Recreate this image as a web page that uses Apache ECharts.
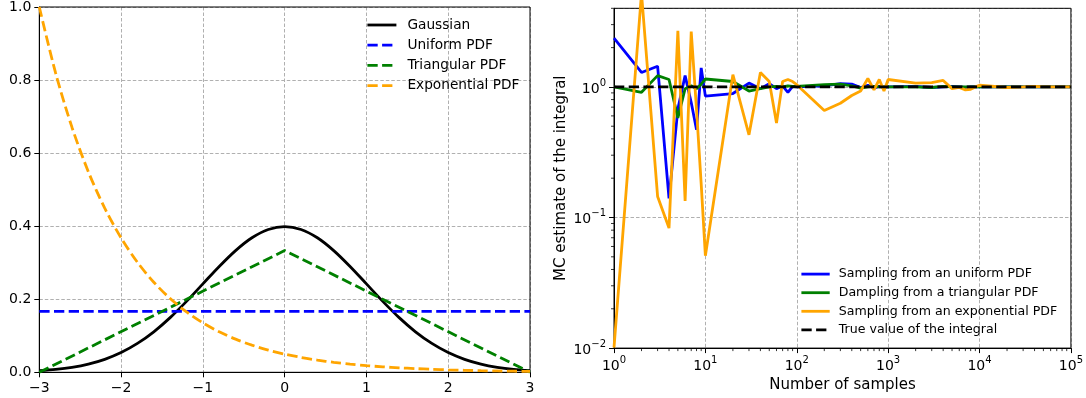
<!DOCTYPE html>
<html><head><meta charset="utf-8">
<script src="https://cdn.jsdelivr.net/npm/echarts@6/dist/echarts.min.js"></script>
<style>html,body{margin:0;padding:0;background:#fff}#c{width:1086px;height:398px}</style>
</head><body><div id="c"></div>
<script>
// ---------- Left panel data ----------
const pdfX = [-3.0,-2.8,-2.6,-2.4,-2.2,-2.0,-1.8,-1.6,-1.4,-1.2,-1.0,-0.8,-0.6,-0.4,-0.2,0.0,
              0.2,0.4,0.6,0.8,1.0,1.2,1.4,1.6,1.8,2.0,2.2,2.4,2.6,2.8,3.0];
const gaussian = [0.0044,0.0079,0.0136,0.0224,0.0355,0.0540,0.0790,0.1109,0.1497,0.1942,0.2420,0.2897,0.3332,0.3683,0.3910,0.3989,
                  0.3910,0.3683,0.3332,0.2897,0.2420,0.1942,0.1497,0.1109,0.0790,0.0540,0.0355,0.0224,0.0136,0.0079,0.0044];
const exponentialPdf = [1.0,0.8187,0.6703,0.5488,0.4493,0.3679,0.3012,0.2466,0.2019,0.1653,0.1353,0.1108,0.0907,0.0743,0.0608,0.0498,
                        0.0408,0.0334,0.0273,0.0224,0.0183,0.0150,0.0123,0.0101,0.0082,0.0067,0.0055,0.0045,0.0037,0.0030,0.0025];
const uniformX = [-3, 3];
const uniformPdf = [0.1667, 0.1667];
const triangularX = [-3, 0, 3];
const triangularPdf = [0, 0.3333, 0];

// ---------- Right panel data ----------
const nSamples = [1,2,3,4,5,6,7,8,9,10,
                  20,30,40,50,60,70,80,90,100,
                  200,300,400,500,600,700,800,900,1000,
                  2000,3000,4000,5000,6000,7000,8000,9000,10000,
                  20000,30000,40000,50000,60000,70000,80000,90000,100000];
const mcUniform = [2.36,1.29,1.44,0.14,0.68,1.22,0.76,0.47,1.40,0.85,
                   0.89,1.07,0.97,1.06,0.97,1.02,0.91,1.01,1.00,
                   1.02,1.06,1.05,0.99,1.03,0.98,1.01,0.99,1.00,
                   1.01,0.99,1.00,1.01,1.00,0.99,1.00,1.00,1.00,
                   1.00,1.00,1.00,1.00,1.00,1.00,1.00,1.00,1.00];
const mcTriangular = [1.00,0.91,1.22,1.14,0.58,0.97,1.02,0.97,1.05,1.15,
                      1.10,0.93,0.97,1.00,1.01,1.00,1.02,1.01,1.01,
                      1.04,1.05,1.02,0.98,1.00,1.01,1.00,1.00,1.00,
                      1.00,0.99,1.01,1.00,1.00,1.00,1.00,1.00,1.00,
                      1.00,1.00,1.00,1.00,1.00,1.00,1.00,1.00,1.00];
const mcExponential = [0.0101,5.2,0.145,0.083,2.69,0.134,2.65,0.67,0.18,0.051,
                       1.24,0.43,1.29,1.10,0.53,1.10,1.14,1.10,1.04,
                       0.66,0.75,0.86,0.93,1.16,0.95,1.14,0.93,1.14,
                       1.07,1.08,1.12,0.97,0.99,0.95,0.96,1.00,1.03,
                       0.99,1.00,1.01,1.00,1.00,1.00,1.00,1.00,1.00];
const trueX = [1, 100000];
const trueValue = [1, 1];

const FONT = 'DejaVu Sans';
const pairs = (xs, ys) => xs.map((x, i) => [x, ys[i]]);
const dash = [10.3, 4.4];
const gridDash = [3.5, 2];

// minor tick positions for the log axes
const minorX = [], minorY = [];
for (let k = 0; k < 5; k++) for (let m = 2; m <= 9; m++) minorX.push([m * Math.pow(10, k), 0.01]);
for (let k = -2; k <= 0; k++) for (let m = 2; m <= 9; m++) { const v = m * Math.pow(10, k); if (v <= 4) minorY.push([1, v]); }

function supLabel(v) {
  const e = Math.log10(v);
  if (Math.abs(e - Math.round(e)) > 1e-6) return '';
  const r = Math.round(e);
  return '{b|10}{s|' + (r < 0 ? '\u2212' + (-r) : r) + '}';
}
const richSup = {
  b: {fontSize: 14, fontFamily: FONT, color: '#000', lineHeight: 18, verticalAlign: 'bottom'},
  s: {fontSize: 10, fontFamily: FONT, color: '#000', lineHeight: 10, verticalAlign: 'top'}
};

const axisCommon = {
  axisLine: {show: true, onZero: false, lineStyle: {color: '#000', width: 1}},
  axisTick: {show: true, inside: false, length: 5, lineStyle: {color: '#000', width: 1}},
  axisLabel: {color: '#000', fontSize: 14, fontFamily: FONT},
};

const chart = echarts.init(document.getElementById('c'), null, {renderer: 'canvas'});
chart.setOption({
  animation: false,
  backgroundColor: '#fff',
  textStyle: {fontFamily: FONT},
  grid: [
    {z: 1, left: 39.3, top: 6, width: 490.7, height: 366.3, show: true, borderColor: '#000', borderWidth: 1, backgroundColor: 'transparent'},
    {z: 1, left: 614, top: 8.3, width: 457.5, height: 341.4, show: true, borderColor: '#000', borderWidth: 1, backgroundColor: 'transparent'}
  ],
  xAxis: [
    Object.assign({}, axisCommon, {
      gridIndex: 0, type: 'value', min: -3, max: 3, interval: 1,
      axisLabel: Object.assign({}, axisCommon.axisLabel, {margin: 9, formatter: v => v < 0 ? '\u2212' + Math.abs(v) : String(v)}),
      splitLine: {show: true, lineStyle: {color: '#b0b0b0', width: 1, type: gridDash}}
    }),
    Object.assign({}, axisCommon, {
      gridIndex: 1, type: 'log', logBase: 10, min: 1, max: 100000, splitNumber: 5,
      axisLabel: Object.assign({}, axisCommon.axisLabel, {margin: 7, formatter: supLabel, rich: richSup}),
      splitLine: {show: true, lineStyle: {color: '#b0b0b0', width: 1, type: gridDash}},
      name: 'Number of samples', nameLocation: 'middle', nameGap: 27,
      nameTextStyle: {color: '#000', fontSize: 15, fontFamily: FONT}
    })
  ],
  yAxis: [
    Object.assign({}, axisCommon, {
      gridIndex: 0, type: 'value', min: 0, max: 1, interval: 0.2,
      axisLabel: Object.assign({}, axisCommon.axisLabel, {margin: 8, formatter: v => v.toFixed(1)}),
      splitLine: {show: true, lineStyle: {color: '#b0b0b0', width: 1, type: gridDash}}
    }),
    Object.assign({}, axisCommon, {
      gridIndex: 1, type: 'log', logBase: 10, min: 0.01, max: 4,
      axisLabel: Object.assign({}, axisCommon.axisLabel, {margin: 8, formatter: supLabel, rich: richSup, showMaxLabel: false}),
      splitLine: {show: true, lineStyle: {color: '#b0b0b0', width: 1, type: gridDash}},
      name: 'MC estimate of the integral', nameLocation: 'middle', nameGap: 45,
      nameTextStyle: {color: '#000', fontSize: 15, fontFamily: FONT}
    })
  ],
  legend: [
    {
      data: ['Gaussian', 'Uniform PDF', 'Triangular PDF', 'Exponential PDF'],
      orient: 'vertical', left: 366, top: 18, padding: 0, itemWidth: 29, itemHeight: 14, itemGap: 6.2,
      itemStyle: {opacity: 0}, lineStyle: {width: 2.8},
      textStyle: {color: '#000', fontSize: 13.7, fontFamily: FONT, padding: [0, 0, 0, 6]},
      selectedMode: false
    },
    {
      data: ['Sampling from an uniform PDF', 'Dampling from a triangular PDF', 'Sampling from an exponential PDF', 'True value of the integral'],
      orient: 'vertical', left: 800, top: 267.6, padding: 0, itemWidth: 28.3, itemHeight: 14, itemGap: 5.6,
      itemStyle: {opacity: 0}, lineStyle: {width: 2.8},
      textStyle: {color: '#000', fontSize: 12.6, fontFamily: FONT, padding: [0, 0, 0, 4]},
      selectedMode: false
    }
  ],
  series: [
    {name: 'Gaussian', type: 'line', xAxisIndex: 0, yAxisIndex: 0, data: pairs(pdfX, gaussian), symbol: 'none', smooth: 0.3,
     lineStyle: {color: '#000', width: 2.8}, itemStyle: {color: '#000'}},
    {name: 'Uniform PDF', type: 'line', xAxisIndex: 0, yAxisIndex: 0, data: pairs(uniformX, uniformPdf), symbol: 'none',
     lineStyle: {color: '#0000ff', width: 2.8, type: dash}, itemStyle: {color: '#0000ff'}},
    {name: 'Triangular PDF', type: 'line', xAxisIndex: 0, yAxisIndex: 0, data: pairs(triangularX, triangularPdf), symbol: 'none',
     lineStyle: {color: '#008000', width: 2.8, type: dash}, itemStyle: {color: '#008000'}},
    {name: 'Exponential PDF', type: 'line', xAxisIndex: 0, yAxisIndex: 0, data: pairs(pdfX, exponentialPdf), symbol: 'none', smooth: 0.3,
     lineStyle: {color: '#ffa500', width: 2.8, type: dash}, itemStyle: {color: '#ffa500'}},

    {name: 'Sampling from an uniform PDF', type: 'line', xAxisIndex: 1, yAxisIndex: 1, data: pairs(nSamples, mcUniform), symbol: 'none',
     lineStyle: {color: '#0000ff', width: 2.8}, itemStyle: {color: '#0000ff'}},
    {name: 'Dampling from a triangular PDF', type: 'line', xAxisIndex: 1, yAxisIndex: 1, data: pairs(nSamples, mcTriangular), symbol: 'none',
     lineStyle: {color: '#008000', width: 2.8}, itemStyle: {color: '#008000'}},
    {name: 'Sampling from an exponential PDF', type: 'line', xAxisIndex: 1, yAxisIndex: 1, data: pairs(nSamples, mcExponential), symbol: 'none', clip: false,
     lineStyle: {color: '#ffa500', width: 2.8}, itemStyle: {color: '#ffa500'}},
    {name: 'True value of the integral', type: 'line', xAxisIndex: 1, yAxisIndex: 1, data: pairs(trueX, trueValue), symbol: 'none',
     lineStyle: {color: '#000', width: 2.8, type: dash}, itemStyle: {color: '#000'}},

    {type: 'custom', xAxisIndex: 1, yAxisIndex: 1, data: minorX, clip: false, silent: true,
     renderItem: (params, api) => {
       const p = api.coord([api.value(0), api.value(1)]);
       return {type: 'line', shape: {x1: p[0], y1: p[1], x2: p[0], y2: p[1] + 3}, style: {stroke: '#000', lineWidth: 0.8}};
     }},
    {type: 'custom', xAxisIndex: 1, yAxisIndex: 1, data: minorY, clip: false, silent: true,
     renderItem: (params, api) => {
       const p = api.coord([api.value(0), api.value(1)]);
       return {type: 'line', shape: {x1: p[0] - 3, y1: p[1], x2: p[0], y2: p[1]}, style: {stroke: '#000', lineWidth: 0.8}};
     }}
  ]
});
</script></body></html>
